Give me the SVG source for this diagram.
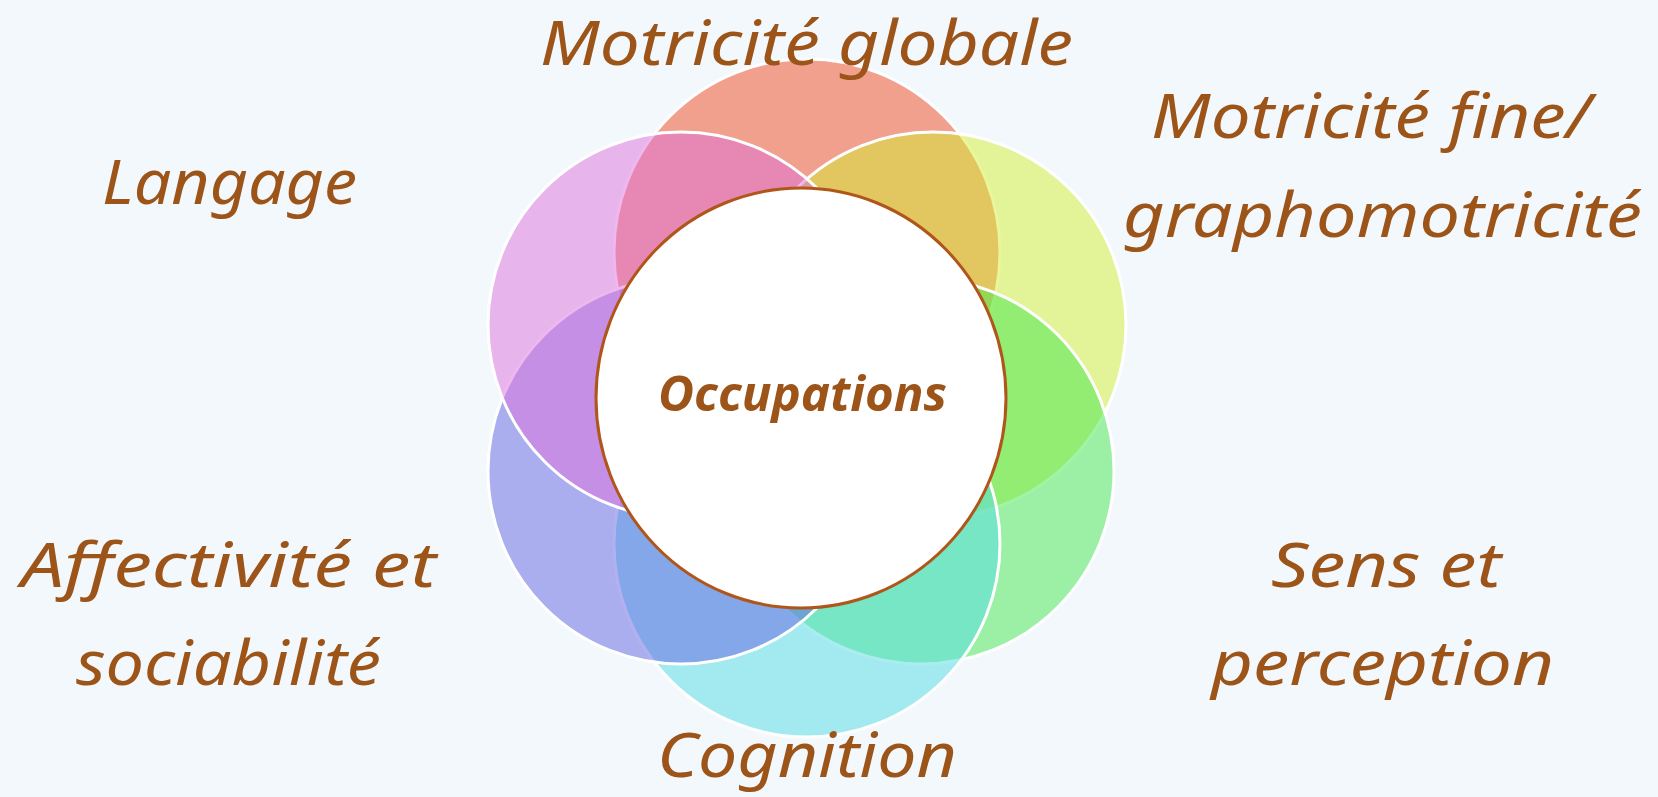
<svg xmlns="http://www.w3.org/2000/svg" width="1658" height="797" viewBox="0 0 1658 797">
<style>
.bubble{stroke:#ffffff;stroke-width:3;fill-opacity:0.5}
.lbl{font-family:"Noto Sans","DejaVu Sans",sans-serif;font-style:italic;fill:#9C5419;font-size:62px}
.core{fill:#ffffff;stroke:#B0561A;stroke-width:3}
.corelbl{font-family:"Noto Sans","DejaVu Sans",sans-serif;font-style:italic;fill:#9C5419;font-size:48px;font-weight:bold}
</style>
<rect x="0" y="0" width="1658" height="797" fill="#F3F8FC"/>
<g id="node-motricite-globale">
<circle class="bubble" cx="807" cy="252" r="193" fill="#EF481E"/>
<text class="lbl" x="540" y="65" textLength="533" lengthAdjust="spacingAndGlyphs">Motricité globale</text>
</g>
<g id="node-motricite-fine">
<circle class="bubble" cx="933" cy="325" r="193" fill="#D3EE34"/>
<text class="lbl" x="1151" y="138" textLength="440" lengthAdjust="spacingAndGlyphs">Motricité fine/</text>
<text class="lbl" x="1123" y="237" textLength="519" lengthAdjust="spacingAndGlyphs">graphomotricité</text>
</g>
<g id="node-sens-perception">
<circle class="bubble" cx="921" cy="471" r="193" fill="#43E84E"/>
<text class="lbl" x="1271" y="587" textLength="230" lengthAdjust="spacingAndGlyphs">Sens et</text>
<text class="lbl" x="1211" y="685" textLength="343" lengthAdjust="spacingAndGlyphs">perception</text>
</g>
<g id="node-cognition">
<circle class="bubble" cx="807" cy="544" r="193" fill="#53DCE4"/>
<text class="lbl" x="657" y="777" textLength="300" lengthAdjust="spacingAndGlyphs">Cognition</text>
</g>
<g id="node-affectivite">
<circle class="bubble" cx="681" cy="471" r="193" fill="#6364E0"/>
<text class="lbl" x="21" y="587" textLength="415" lengthAdjust="spacingAndGlyphs">Affectivité et</text>
<text class="lbl" x="76" y="685" textLength="305" lengthAdjust="spacingAndGlyphs">sociabilité</text>
</g>
<g id="node-langage">
<circle class="bubble" cx="681" cy="325" r="193" fill="#DD70DC"/>
<text class="lbl" x="102" y="204" textLength="255" lengthAdjust="spacingAndGlyphs">Langage</text>
</g>
<g id="node-occupations">
<ellipse class="core" cx="801" cy="398" rx="205" ry="210"/>
<text class="corelbl" x="658" y="411" textLength="289" lengthAdjust="spacingAndGlyphs">Occupations</text>
</g>
</svg>
